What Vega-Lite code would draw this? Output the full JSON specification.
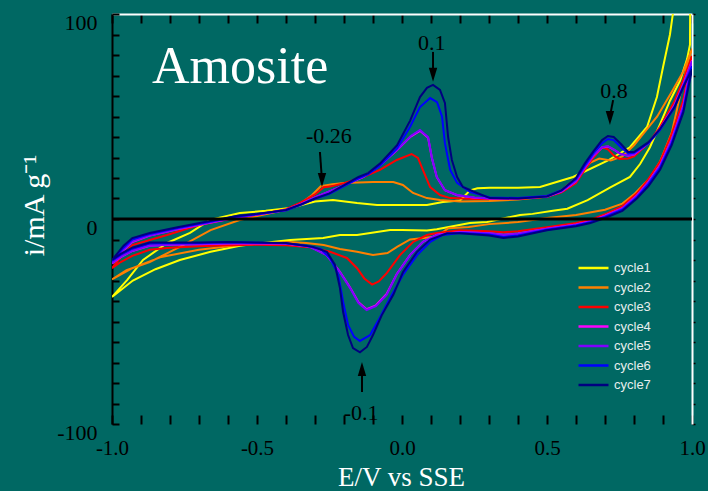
{
  "$schema": "https://vega.github.io/schema/vega-lite/v6.json",
  "width": 580,
  "height": 410,
  "autosize": {"type": "none"},
  "padding": {"left": 112, "top": 14, "right": 16, "bottom": 67},
  "background": "#006863",
  "config": {
    "view": {"stroke": null},
    "axis": {"grid": false, "labelFlush": false, "labelOverlap": false, "labelBound": false}
  },
  "datasets": {
    "cv": [
      {"c":"cycle1","x":-1.0,"y":-38},{"c":"cycle1","x":-0.948,"y":-29.8},{"c":"cycle1","x":-0.893,"y":-20},{"c":"cycle1","x":-0.81,"y":-11.7},{"c":"cycle1","x":-0.731,"y":-6.8},{"c":"cycle1","x":-0.662,"y":-0.5},{"c":"cycle1","x":-0.559,"y":2.9},{"c":"cycle1","x":-0.47,"y":4},{"c":"cycle1","x":-0.386,"y":5.4},{"c":"cycle1","x":-0.3,"y":8.5},{"c":"cycle1","x":-0.238,"y":9.3},{"c":"cycle1","x":-0.155,"y":7.8},{"c":"cycle1","x":-0.086,"y":6.8},{"c":"cycle1","x":0.0,"y":6.8},{"c":"cycle1","x":0.086,"y":6.8},{"c":"cycle1","x":0.141,"y":8.3},{"c":"cycle1","x":0.2,"y":9},{"c":"cycle1","x":0.235,"y":14},{"c":"cycle1","x":0.26,"y":15},{"c":"cycle1","x":0.303,"y":15.2},{"c":"cycle1","x":0.4,"y":15.3},{"c":"cycle1","x":0.476,"y":15.6},{"c":"cycle1","x":0.59,"y":20.5},{"c":"cycle1","x":0.707,"y":28.3},{"c":"cycle1","x":0.786,"y":35},{"c":"cycle1","x":0.845,"y":44.9},{"c":"cycle1","x":0.879,"y":59.5},{"c":"cycle1","x":0.9,"y":74},{"c":"cycle1","x":0.924,"y":90},{"c":"cycle1","x":0.934,"y":100},{"c":"cycle1","x":0.95,"y":125},{"c":"cycle1","x":0.97,"y":140},
      {"c":"cycle1","x":0.995,"y":140},{"c":"cycle1","x":0.993,"y":85},{"c":"cycle1","x":0.983,"y":78},{"c":"cycle1","x":0.959,"y":67.5},{"c":"cycle1","x":0.924,"y":57.7},{"c":"cycle1","x":0.89,"y":46.3},{"c":"cycle1","x":0.855,"y":35},{"c":"cycle1","x":0.821,"y":26.8},{"c":"cycle1","x":0.786,"y":20.5},{"c":"cycle1","x":0.72,"y":15.5},{"c":"cycle1","x":0.64,"y":9.2},{"c":"cycle1","x":0.57,"y":5},{"c":"cycle1","x":0.52,"y":4},{"c":"cycle1","x":0.45,"y":2.5},{"c":"cycle1","x":0.407,"y":2},{"c":"cycle1","x":0.34,"y":0},{"c":"cycle1","x":0.293,"y":-1.5},{"c":"cycle1","x":0.234,"y":-2},{"c":"cycle1","x":0.12,"y":-5},{"c":"cycle1","x":0.086,"y":-5.6},{"c":"cycle1","x":0.0,"y":-5.4},{"c":"cycle1","x":-0.041,"y":-5.4},{"c":"cycle1","x":-0.155,"y":-7.8},{"c":"cycle1","x":-0.214,"y":-7.8},{"c":"cycle1","x":-0.272,"y":-9.3},{"c":"cycle1","x":-0.386,"y":-10.2},{"c":"cycle1","x":-0.559,"y":-13},{"c":"cycle1","x":-0.66,"y":-16},{"c":"cycle1","x":-0.766,"y":-20},{"c":"cycle1","x":-0.85,"y":-24.5},{"c":"cycle1","x":-0.928,"y":-30},{"c":"cycle1","x":-1.0,"y":-38},

      {"c":"cycle2","x":-1.0,"y":-29.5},{"c":"cycle2","x":-0.95,"y":-25},{"c":"cycle2","x":-0.87,"y":-21},{"c":"cycle2","x":-0.766,"y":-13.6},{"c":"cycle2","x":-0.66,"y":-5.4},{"c":"cycle2","x":-0.56,"y":-0.5},{"c":"cycle2","x":-0.5,"y":1.5},{"c":"cycle2","x":-0.4,"y":4.5},{"c":"cycle2","x":-0.35,"y":7.5},{"c":"cycle2","x":-0.31,"y":11.7},{"c":"cycle2","x":-0.28,"y":16},{"c":"cycle2","x":-0.24,"y":17},{"c":"cycle2","x":-0.2,"y":17.6},{"c":"cycle2","x":-0.1,"y":18},{"c":"cycle2","x":-0.03,"y":18},{"c":"cycle2","x":0.003,"y":16.6},{"c":"cycle2","x":0.038,"y":12.7},{"c":"cycle2","x":0.086,"y":10.2},{"c":"cycle2","x":0.131,"y":9.3},{"c":"cycle2","x":0.2,"y":8.5},{"c":"cycle2","x":0.3,"y":8.8},{"c":"cycle2","x":0.4,"y":9.5},{"c":"cycle2","x":0.5,"y":11},{"c":"cycle2","x":0.55,"y":14},{"c":"cycle2","x":0.6,"y":20},{"c":"cycle2","x":0.65,"y":27.5},{"c":"cycle2","x":0.68,"y":29.5},{"c":"cycle2","x":0.72,"y":28.5},{"c":"cycle2","x":0.76,"y":30.5},{"c":"cycle2","x":0.8,"y":36},{"c":"cycle2","x":0.84,"y":43},{"c":"cycle2","x":0.88,"y":50},{"c":"cycle2","x":0.93,"y":62},{"c":"cycle2","x":0.97,"y":72},{"c":"cycle2","x":1.0,"y":83},
      {"c":"cycle2","x":0.985,"y":76},{"c":"cycle2","x":0.96,"y":61},{"c":"cycle2","x":0.93,"y":42},{"c":"cycle2","x":0.89,"y":28},{"c":"cycle2","x":0.855,"y":20},{"c":"cycle2","x":0.8,"y":12},{"c":"cycle2","x":0.76,"y":7.5},{"c":"cycle2","x":0.7,"y":4.5},{"c":"cycle2","x":0.6,"y":2},{"c":"cycle2","x":0.5,"y":0.5},{"c":"cycle2","x":0.4,"y":-1.5},{"c":"cycle2","x":0.3,"y":-2.5},{"c":"cycle2","x":0.23,"y":-3.9},{"c":"cycle2","x":0.16,"y":-4.5},{"c":"cycle2","x":0.12,"y":-8.5},{"c":"cycle2","x":0.075,"y":-9.3},{"c":"cycle2","x":0.028,"y":-10},{"c":"cycle2","x":-0.017,"y":-13.6},{"c":"cycle2","x":-0.05,"y":-16.6},{"c":"cycle2","x":-0.1,"y":-17.6},{"c":"cycle2","x":-0.155,"y":-16},{"c":"cycle2","x":-0.214,"y":-14.6},{"c":"cycle2","x":-0.27,"y":-12.7},{"c":"cycle2","x":-0.33,"y":-11.7},{"c":"cycle2","x":-0.386,"y":-11.2},{"c":"cycle2","x":-0.56,"y":-12.7},{"c":"cycle2","x":-0.7,"y":-15},{"c":"cycle2","x":-0.83,"y":-18.5},{"c":"cycle2","x":-0.93,"y":-24},{"c":"cycle2","x":-1.0,"y":-29.5},

      {"c":"cycle3","x":-1.0,"y":-24},{"c":"cycle3","x":-0.96,"y":-17},{"c":"cycle3","x":-0.93,"y":-12.7},{"c":"cycle3","x":-0.81,"y":-7.8},{"c":"cycle3","x":-0.7,"y":-2.9},{"c":"cycle3","x":-0.58,"y":0.5},{"c":"cycle3","x":-0.5,"y":2},{"c":"cycle3","x":-0.4,"y":4.8},{"c":"cycle3","x":-0.35,"y":8},{"c":"cycle3","x":-0.3,"y":12},{"c":"cycle3","x":-0.27,"y":15.5},{"c":"cycle3","x":-0.248,"y":15.8},{"c":"cycle3","x":-0.2,"y":17.5},{"c":"cycle3","x":-0.134,"y":20.5},{"c":"cycle3","x":-0.076,"y":24},{"c":"cycle3","x":-0.018,"y":28.8},{"c":"cycle3","x":0.033,"y":31.7},{"c":"cycle3","x":0.055,"y":29.8},{"c":"cycle3","x":0.072,"y":24},{"c":"cycle3","x":0.097,"y":15.6},{"c":"cycle3","x":0.131,"y":11.7},{"c":"cycle3","x":0.166,"y":10.2},{"c":"cycle3","x":0.25,"y":9.8},{"c":"cycle3","x":0.4,"y":9.8},{"c":"cycle3","x":0.5,"y":10.8},{"c":"cycle3","x":0.55,"y":13},{"c":"cycle3","x":0.6,"y":17.5},{"c":"cycle3","x":0.63,"y":24},{"c":"cycle3","x":0.66,"y":30},{"c":"cycle3","x":0.69,"y":35},{"c":"cycle3","x":0.71,"y":34},{"c":"cycle3","x":0.73,"y":31},{"c":"cycle3","x":0.75,"y":29.3},{"c":"cycle3","x":0.78,"y":29.5},{"c":"cycle3","x":0.8,"y":30.5},{"c":"cycle3","x":0.85,"y":37},{"c":"cycle3","x":0.89,"y":45},{"c":"cycle3","x":0.94,"y":57.5},{"c":"cycle3","x":0.97,"y":68},{"c":"cycle3","x":1.0,"y":79.5},
      {"c":"cycle3","x":0.97,"y":58},{"c":"cycle3","x":0.93,"y":41.5},{"c":"cycle3","x":0.89,"y":28},{"c":"cycle3","x":0.85,"y":19.5},{"c":"cycle3","x":0.81,"y":12.5},{"c":"cycle3","x":0.76,"y":6.3},{"c":"cycle3","x":0.7,"y":2.3},{"c":"cycle3","x":0.65,"y":-0.4},{"c":"cycle3","x":0.6,"y":-2},{"c":"cycle3","x":0.5,"y":-4},{"c":"cycle3","x":0.4,"y":-6},{"c":"cycle3","x":0.35,"y":-6.5},{"c":"cycle3","x":0.3,"y":-6},{"c":"cycle3","x":0.2,"y":-5.5},{"c":"cycle3","x":0.12,"y":-6.8},{"c":"cycle3","x":0.086,"y":-7.8},{"c":"cycle3","x":0.038,"y":-11.2},{"c":"cycle3","x":-0.007,"y":-17.6},{"c":"cycle3","x":-0.052,"y":-26.3},{"c":"cycle3","x":-0.08,"y":-30.5},{"c":"cycle3","x":-0.103,"y":-32},{"c":"cycle3","x":-0.13,"y":-29},{"c":"cycle3","x":-0.155,"y":-24},{"c":"cycle3","x":-0.19,"y":-19},{"c":"cycle3","x":-0.248,"y":-16},{"c":"cycle3","x":-0.317,"y":-13.8},{"c":"cycle3","x":-0.4,"y":-12.8},{"c":"cycle3","x":-0.5,"y":-12.6},{"c":"cycle3","x":-0.6,"y":-12.8},{"c":"cycle3","x":-0.7,"y":-13.3},{"c":"cycle3","x":-0.8,"y":-14},{"c":"cycle3","x":-0.87,"y":-15},{"c":"cycle3","x":-0.93,"y":-18},{"c":"cycle3","x":-0.97,"y":-21},{"c":"cycle3","x":-1.0,"y":-24},

      {"c":"cycle4","x":-1.0,"y":-21.7},{"c":"cycle4","x":-0.96,"y":-15.2},{"c":"cycle4","x":-0.93,"y":-11.2},{"c":"cycle4","x":-0.87,"y":-8.1},{"c":"cycle4","x":-0.77,"y":-4.9},{"c":"cycle4","x":-0.68,"y":-2.3},{"c":"cycle4","x":-0.57,"y":0.7},{"c":"cycle4","x":-0.5,"y":2.2},{"c":"cycle4","x":-0.4,"y":4.4},{"c":"cycle4","x":-0.35,"y":7.2},{"c":"cycle4","x":-0.3,"y":10.5},{"c":"cycle4","x":-0.25,"y":13.5},{"c":"cycle4","x":-0.2,"y":16.4},{"c":"cycle4","x":-0.134,"y":20.4},{"c":"cycle4","x":-0.076,"y":26.1},{"c":"cycle4","x":-0.018,"y":33.5},{"c":"cycle4","x":0.03,"y":40.2},{"c":"cycle4","x":0.062,"y":43},{"c":"cycle4","x":0.09,"y":39.6},{"c":"cycle4","x":0.103,"y":29.8},{"c":"cycle4","x":0.12,"y":20.4},{"c":"cycle4","x":0.148,"y":14},{"c":"cycle4","x":0.19,"y":11.6},{"c":"cycle4","x":0.25,"y":10.4},{"c":"cycle4","x":0.303,"y":10},{"c":"cycle4","x":0.4,"y":10},{"c":"cycle4","x":0.5,"y":11},{"c":"cycle4","x":0.55,"y":13.4},{"c":"cycle4","x":0.6,"y":18.4},{"c":"cycle4","x":0.63,"y":24.9},{"c":"cycle4","x":0.66,"y":30.9},{"c":"cycle4","x":0.69,"y":34.9},{"c":"cycle4","x":0.71,"y":35.4},{"c":"cycle4","x":0.73,"y":33.9},{"c":"cycle4","x":0.755,"y":31.5},{"c":"cycle4","x":0.78,"y":30.9},{"c":"cycle4","x":0.8,"y":31.4},{"c":"cycle4","x":0.85,"y":37},{"c":"cycle4","x":0.89,"y":44},{"c":"cycle4","x":0.94,"y":55.6},{"c":"cycle4","x":0.97,"y":65.7},{"c":"cycle4","x":1.0,"y":77.3},
      {"c":"cycle4","x":0.97,"y":55.2},{"c":"cycle4","x":0.93,"y":38.7},{"c":"cycle4","x":0.89,"y":26.2},{"c":"cycle4","x":0.85,"y":18.1},{"c":"cycle4","x":0.81,"y":11.4},{"c":"cycle4","x":0.76,"y":5.3},{"c":"cycle4","x":0.7,"y":1.6},{"c":"cycle4","x":0.65,"y":-1.1},{"c":"cycle4","x":0.6,"y":-2.7},{"c":"cycle4","x":0.5,"y":-4.7},{"c":"cycle4","x":0.4,"y":-7.1},{"c":"cycle4","x":0.35,"y":-7.7},{"c":"cycle4","x":0.3,"y":-6.9},{"c":"cycle4","x":0.2,"y":-6.4},{"c":"cycle4","x":0.12,"y":-7.7},{"c":"cycle4","x":0.072,"y":-11.1},{"c":"cycle4","x":0.028,"y":-17.5},{"c":"cycle4","x":-0.018,"y":-26.8},{"c":"cycle4","x":-0.053,"y":-36.6},{"c":"cycle4","x":-0.09,"y":-42.1},{"c":"cycle4","x":-0.122,"y":-44},{"c":"cycle4","x":-0.15,"y":-40.6},{"c":"cycle4","x":-0.179,"y":-33.4},{"c":"cycle4","x":-0.214,"y":-25.8},{"c":"cycle4","x":-0.26,"y":-17.5},{"c":"cycle4","x":-0.317,"y":-13.6},{"c":"cycle4","x":-0.4,"y":-12.1},{"c":"cycle4","x":-0.5,"y":-11.9},{"c":"cycle4","x":-0.6,"y":-11.9},{"c":"cycle4","x":-0.7,"y":-12.3},{"c":"cycle4","x":-0.8,"y":-12.6},{"c":"cycle4","x":-0.87,"y":-13.1},{"c":"cycle4","x":-0.93,"y":-15.6},{"c":"cycle4","x":-0.97,"y":-18.6},{"c":"cycle4","x":-1.0,"y":-21.7},

      {"c":"cycle5","x":-1.0,"y":-21.5},{"c":"cycle5","x":-0.96,"y":-15},{"c":"cycle5","x":-0.93,"y":-11},{"c":"cycle5","x":-0.87,"y":-8},{"c":"cycle5","x":-0.77,"y":-4.8},{"c":"cycle5","x":-0.68,"y":-2.2},{"c":"cycle5","x":-0.57,"y":0.8},{"c":"cycle5","x":-0.5,"y":2.2},{"c":"cycle5","x":-0.4,"y":4.4},{"c":"cycle5","x":-0.35,"y":7.2},{"c":"cycle5","x":-0.3,"y":10.5},{"c":"cycle5","x":-0.25,"y":13.5},{"c":"cycle5","x":-0.2,"y":16.5},{"c":"cycle5","x":-0.134,"y":20.5},{"c":"cycle5","x":-0.076,"y":26.3},{"c":"cycle5","x":-0.018,"y":33.7},{"c":"cycle5","x":0.03,"y":40.5},{"c":"cycle5","x":0.062,"y":43.4},{"c":"cycle5","x":0.09,"y":40},{"c":"cycle5","x":0.103,"y":30},{"c":"cycle5","x":0.12,"y":20.5},{"c":"cycle5","x":0.148,"y":14},{"c":"cycle5","x":0.19,"y":11.7},{"c":"cycle5","x":0.25,"y":10.5},{"c":"cycle5","x":0.303,"y":10},{"c":"cycle5","x":0.4,"y":10},{"c":"cycle5","x":0.5,"y":11},{"c":"cycle5","x":0.55,"y":13.5},{"c":"cycle5","x":0.6,"y":18.5},{"c":"cycle5","x":0.63,"y":25},{"c":"cycle5","x":0.66,"y":31},{"c":"cycle5","x":0.69,"y":35},{"c":"cycle5","x":0.71,"y":35.6},{"c":"cycle5","x":0.73,"y":34},{"c":"cycle5","x":0.755,"y":31.7},{"c":"cycle5","x":0.78,"y":31},{"c":"cycle5","x":0.8,"y":31.5},{"c":"cycle5","x":0.85,"y":37},{"c":"cycle5","x":0.89,"y":44},{"c":"cycle5","x":0.94,"y":55.5},{"c":"cycle5","x":0.97,"y":65.5},{"c":"cycle5","x":1.0,"y":77},
      {"c":"cycle5","x":0.97,"y":55},{"c":"cycle5","x":0.93,"y":38.5},{"c":"cycle5","x":0.89,"y":26},{"c":"cycle5","x":0.85,"y":18},{"c":"cycle5","x":0.81,"y":11.3},{"c":"cycle5","x":0.76,"y":5.2},{"c":"cycle5","x":0.7,"y":1.5},{"c":"cycle5","x":0.65,"y":-1.2},{"c":"cycle5","x":0.6,"y":-2.8},{"c":"cycle5","x":0.5,"y":-4.8},{"c":"cycle5","x":0.4,"y":-7.2},{"c":"cycle5","x":0.35,"y":-7.8},{"c":"cycle5","x":0.3,"y":-7},{"c":"cycle5","x":0.2,"y":-6.5},{"c":"cycle5","x":0.12,"y":-7.8},{"c":"cycle5","x":0.072,"y":-11.2},{"c":"cycle5","x":0.028,"y":-17.6},{"c":"cycle5","x":-0.018,"y":-27},{"c":"cycle5","x":-0.053,"y":-37},{"c":"cycle5","x":-0.09,"y":-42.5},{"c":"cycle5","x":-0.122,"y":-44.4},{"c":"cycle5","x":-0.15,"y":-41},{"c":"cycle5","x":-0.179,"y":-33.7},{"c":"cycle5","x":-0.214,"y":-26},{"c":"cycle5","x":-0.26,"y":-17.6},{"c":"cycle5","x":-0.317,"y":-13.6},{"c":"cycle5","x":-0.4,"y":-12},{"c":"cycle5","x":-0.5,"y":-11.8},{"c":"cycle5","x":-0.6,"y":-11.8},{"c":"cycle5","x":-0.7,"y":-12.2},{"c":"cycle5","x":-0.8,"y":-12.5},{"c":"cycle5","x":-0.87,"y":-13},{"c":"cycle5","x":-0.93,"y":-15.5},{"c":"cycle5","x":-0.97,"y":-18.5},{"c":"cycle5","x":-1.0,"y":-21.5},

      {"c":"cycle6","x":-1.0,"y":-20.5},{"c":"cycle6","x":-0.96,"y":-14},{"c":"cycle6","x":-0.93,"y":-10},{"c":"cycle6","x":-0.87,"y":-7.3},{"c":"cycle6","x":-0.77,"y":-4.3},{"c":"cycle6","x":-0.68,"y":-1.8},{"c":"cycle6","x":-0.57,"y":1.2},{"c":"cycle6","x":-0.5,"y":2.3},{"c":"cycle6","x":-0.4,"y":4.2},{"c":"cycle6","x":-0.35,"y":6.8},{"c":"cycle6","x":-0.3,"y":9.8},{"c":"cycle6","x":-0.25,"y":12.3},{"c":"cycle6","x":-0.2,"y":16},{"c":"cycle6","x":-0.15,"y":19.8},{"c":"cycle6","x":-0.117,"y":21.8},{"c":"cycle6","x":-0.076,"y":26},{"c":"cycle6","x":-0.017,"y":34.5},{"c":"cycle6","x":0.028,"y":45},{"c":"cycle6","x":0.062,"y":54.6},{"c":"cycle6","x":0.097,"y":59},{"c":"cycle6","x":0.121,"y":57},{"c":"cycle6","x":0.138,"y":50},{"c":"cycle6","x":0.148,"y":37},{"c":"cycle6","x":0.166,"y":24},{"c":"cycle6","x":0.19,"y":17.6},{"c":"cycle6","x":0.234,"y":13.2},{"c":"cycle6","x":0.303,"y":10.5},{"c":"cycle6","x":0.4,"y":10.2},{"c":"cycle6","x":0.5,"y":11.2},{"c":"cycle6","x":0.55,"y":14},{"c":"cycle6","x":0.6,"y":19.5},{"c":"cycle6","x":0.63,"y":26},{"c":"cycle6","x":0.66,"y":32},{"c":"cycle6","x":0.69,"y":37},{"c":"cycle6","x":0.71,"y":39},{"c":"cycle6","x":0.73,"y":38.5},{"c":"cycle6","x":0.755,"y":35},{"c":"cycle6","x":0.78,"y":32},{"c":"cycle6","x":0.8,"y":32.3},{"c":"cycle6","x":0.85,"y":37},{"c":"cycle6","x":0.89,"y":43.5},{"c":"cycle6","x":0.94,"y":54.5},{"c":"cycle6","x":0.97,"y":64.5},{"c":"cycle6","x":1.0,"y":74.5},
      {"c":"cycle6","x":0.97,"y":53},{"c":"cycle6","x":0.93,"y":37},{"c":"cycle6","x":0.89,"y":25},{"c":"cycle6","x":0.85,"y":17},{"c":"cycle6","x":0.81,"y":10.5},{"c":"cycle6","x":0.76,"y":4.5},{"c":"cycle6","x":0.7,"y":1},{"c":"cycle6","x":0.65,"y":-1.6},{"c":"cycle6","x":0.6,"y":-3.2},{"c":"cycle6","x":0.5,"y":-5.2},{"c":"cycle6","x":0.4,"y":-8},{"c":"cycle6","x":0.35,"y":-8.8},{"c":"cycle6","x":0.3,"y":-7.6},{"c":"cycle6","x":0.2,"y":-6.8},{"c":"cycle6","x":0.141,"y":-7.8},{"c":"cycle6","x":0.097,"y":-11.2},{"c":"cycle6","x":0.052,"y":-17.6},{"c":"cycle6","x":0.003,"y":-27.3},{"c":"cycle6","x":-0.041,"y":-38.5},{"c":"cycle6","x":-0.076,"y":-48},{"c":"cycle6","x":-0.11,"y":-56.6},{"c":"cycle6","x":-0.145,"y":-59.5},{"c":"cycle6","x":-0.165,"y":-57.5},{"c":"cycle6","x":-0.186,"y":-51.7},{"c":"cycle6","x":-0.203,"y":-40.5},{"c":"cycle6","x":-0.22,"y":-27},{"c":"cycle6","x":-0.248,"y":-19},{"c":"cycle6","x":-0.28,"y":-14.6},{"c":"cycle6","x":-0.33,"y":-13},{"c":"cycle6","x":-0.4,"y":-11.8},{"c":"cycle6","x":-0.5,"y":-11.6},{"c":"cycle6","x":-0.6,"y":-11.4},{"c":"cycle6","x":-0.7,"y":-11.7},{"c":"cycle6","x":-0.8,"y":-11.8},{"c":"cycle6","x":-0.87,"y":-12},{"c":"cycle6","x":-0.93,"y":-14.5},{"c":"cycle6","x":-0.97,"y":-17.5},{"c":"cycle6","x":-1.0,"y":-20.5},

      {"c":"cycle7","x":-1.0,"y":-20},{"c":"cycle7","x":-0.96,"y":-13},{"c":"cycle7","x":-0.93,"y":-9.3},{"c":"cycle7","x":-0.87,"y":-6.8},{"c":"cycle7","x":-0.77,"y":-3.9},{"c":"cycle7","x":-0.68,"y":-1.5},{"c":"cycle7","x":-0.57,"y":1.5},{"c":"cycle7","x":-0.5,"y":2.5},{"c":"cycle7","x":-0.4,"y":4.4},{"c":"cycle7","x":-0.35,"y":7},{"c":"cycle7","x":-0.3,"y":10},{"c":"cycle7","x":-0.25,"y":12.5},{"c":"cycle7","x":-0.2,"y":16.5},{"c":"cycle7","x":-0.15,"y":20.5},{"c":"cycle7","x":-0.117,"y":22.4},{"c":"cycle7","x":-0.076,"y":27},{"c":"cycle7","x":-0.017,"y":36},{"c":"cycle7","x":0.028,"y":48},{"c":"cycle7","x":0.062,"y":59.5},{"c":"cycle7","x":0.086,"y":64},{"c":"cycle7","x":0.107,"y":65.4},{"c":"cycle7","x":0.131,"y":63},{"c":"cycle7","x":0.148,"y":56.6},{"c":"cycle7","x":0.159,"y":40},{"c":"cycle7","x":0.172,"y":28.8},{"c":"cycle7","x":0.19,"y":20.5},{"c":"cycle7","x":0.21,"y":15.6},{"c":"cycle7","x":0.259,"y":12.7},{"c":"cycle7","x":0.303,"y":10.2},{"c":"cycle7","x":0.4,"y":10},{"c":"cycle7","x":0.5,"y":11},{"c":"cycle7","x":0.55,"y":14},{"c":"cycle7","x":0.6,"y":20},{"c":"cycle7","x":0.63,"y":27},{"c":"cycle7","x":0.66,"y":33},{"c":"cycle7","x":0.69,"y":38.5},{"c":"cycle7","x":0.71,"y":40.5},{"c":"cycle7","x":0.73,"y":40},{"c":"cycle7","x":0.755,"y":36.6},{"c":"cycle7","x":0.78,"y":32.7},{"c":"cycle7","x":0.8,"y":32.7},{"c":"cycle7","x":0.85,"y":37.5},{"c":"cycle7","x":0.89,"y":44},{"c":"cycle7","x":0.94,"y":54.6},{"c":"cycle7","x":0.97,"y":64.4},{"c":"cycle7","x":1.0,"y":73},
      {"c":"cycle7","x":0.97,"y":52},{"c":"cycle7","x":0.93,"y":36},{"c":"cycle7","x":0.89,"y":24},{"c":"cycle7","x":0.85,"y":16},{"c":"cycle7","x":0.81,"y":10},{"c":"cycle7","x":0.76,"y":4},{"c":"cycle7","x":0.7,"y":0.5},{"c":"cycle7","x":0.65,"y":-2},{"c":"cycle7","x":0.6,"y":-3.5},{"c":"cycle7","x":0.5,"y":-5.5},{"c":"cycle7","x":0.4,"y":-8.5},{"c":"cycle7","x":0.35,"y":-9.3},{"c":"cycle7","x":0.3,"y":-8},{"c":"cycle7","x":0.2,"y":-7},{"c":"cycle7","x":0.155,"y":-7},{"c":"cycle7","x":0.097,"y":-10},{"c":"cycle7","x":0.052,"y":-16},{"c":"cycle7","x":0.003,"y":-26},{"c":"cycle7","x":-0.03,"y":-37},{"c":"cycle7","x":-0.07,"y":-47},{"c":"cycle7","x":-0.1,"y":-56.6},{"c":"cycle7","x":-0.121,"y":-62.4},{"c":"cycle7","x":-0.145,"y":-65},{"c":"cycle7","x":-0.169,"y":-63},{"c":"cycle7","x":-0.186,"y":-56.6},{"c":"cycle7","x":-0.203,"y":-45.4},{"c":"cycle7","x":-0.214,"y":-33.7},{"c":"cycle7","x":-0.231,"y":-22.4},{"c":"cycle7","x":-0.259,"y":-16},{"c":"cycle7","x":-0.307,"y":-13.6},{"c":"cycle7","x":-0.352,"y":-12.7},{"c":"cycle7","x":-0.4,"y":-11.7},{"c":"cycle7","x":-0.5,"y":-11.5},{"c":"cycle7","x":-0.6,"y":-11.2},{"c":"cycle7","x":-0.7,"y":-11.5},{"c":"cycle7","x":-0.8,"y":-11.5},{"c":"cycle7","x":-0.87,"y":-11.5},{"c":"cycle7","x":-0.93,"y":-14},{"c":"cycle7","x":-0.97,"y":-17},{"c":"cycle7","x":-1.0,"y":-20}
    ],
    "ann": [
      {"t":"0.1","x":0.103,"y":82.4},
      {"t":"-0.26","x":-0.252,"y":37},
      {"t":"0.8","x":0.731,"y":59},
      {"t":"-0.1","x":-0.141,"y":-98}
    ],
    "shafts": [
      {"x":0.107,"y":81.5,"x2":0.107,"y2":72},
      {"x":-0.283,"y":32.7,"x2":-0.277,"y2":21},
      {"x":0.728,"y":58,"x2":0.719,"y2":51.5},
      {"x":-0.138,"y":-84.4,"x2":-0.138,"y2":-75}
    ],
    "heads": [
      {"x":0.107,"y":67,"dir":"down"},
      {"x":-0.276,"y":15.6,"dir":"down"},
      {"x":0.717,"y":45.9,"dir":"down"},
      {"x":-0.138,"y":-69.8,"dir":"up"}
    ]
  },
  "layer": [
    {
      "data": {"name": "cv"},
      "mark": {"type": "line", "strokeWidth": 2, "clip": true},
      "encoding": {
        "x": {
          "field": "x", "type": "quantitative",
          "scale": {"domain": [-1, 1], "nice": false, "zero": false},
          "axis": {
            "orient": "bottom",
            "values": [-1, -0.9, -0.8, -0.7, -0.6, -0.5, -0.4, -0.3, -0.2, -0.1, 0, 0.1, 0.2, 0.3, 0.4, 0.5, 0.6, 0.7, 0.8, 0.9, 1],
            "labelExpr": "abs(datum.value*2-round(datum.value*2))<0.01 ? replace(format(datum.value,'.1f'),'\u2212','-') : ''",
            "domain": false,
            "ticks": true, "tickSize": -9, "tickWidth": 2, "tickColor": "black",
            "labelFont": "Liberation Serif", "labelFontSize": 21, "labelColor": "black", "labelPadding": 22,
            "title": "E/V vs SSE",
            "titleFont": "Liberation Serif", "titleFontSize": 27, "titleFontWeight": "normal", "titleColor": "white",
            "titleBaseline": "alphabetic", "titleY": 61, "titleX": 289, "titleAlign": "center"
          }
        },
        "y": {
          "field": "y", "type": "quantitative",
          "scale": {"domain": [-100, 100], "nice": false, "zero": false},
          "axis": {
            "orient": "left",
            "values": [-100, -90, -80, -70, -60, -50, -40, -30, -20, -10, 0, 10, 20, 30, 40, 50, 60, 70, 80, 90, 100],
            "labelExpr": "datum.value == 100 ? '100' : datum.value == 0 ? '0' : datum.value == -100 ? '-100' : ''",
            "domain": true, "domainColor": "black", "domainWidth": 2,
            "ticks": true, "tickSize": -7, "tickWidth": 2, "tickColor": "black",
            "labelFont": "Liberation Serif", "labelFontSize": 22, "labelColor": "black", "labelPadding": 22, "labelOffset": 8,
            "title": "i/mA g\u207b\u00b9",
            "titleFont": "Liberation Serif", "titleFontSize": 30, "titleFontWeight": "normal", "titleColor": "white",
            "titleAngle": -90, "titleBaseline": "alphabetic", "titleAlign": "center", "titleX": -69, "titleY": 191
          }
        },
        "color": {
          "field": "c", "type": "nominal",
          "scale": {
            "domain": ["cycle1", "cycle2", "cycle3", "cycle4", "cycle5", "cycle6", "cycle7"],
            "range": ["#ffff00", "#ff8000", "#ff0000", "#ff00ff", "#8000ff", "#0000ff", "#000080"]
          },
          "legend": {
            "orient": "none", "legendX": 465, "legendY": 246, "title": null,
            "symbolType": "stroke", "symbolStrokeWidth": 2.5, "symbolSize": 900,
            "labelFont": "Liberation Sans", "labelFontSize": 13, "labelColor": "#e6eeee",
            "clipHeight": 16, "rowPadding": 3.5, "padding": 0, "labelOffset": 4
          }
        },
        "order": {"value": null}
      }
    },
    {
      "data": {"values": [{"v": 0}]},
      "mark": {"type": "rule", "color": "black", "strokeWidth": 3},
      "encoding": {
        "y": {"field": "v", "type": "quantitative", "scale": {"domain": [-100, 100], "nice": false, "zero": false}, "axis": null}
      }
    },
    {
      "data": {"values": [{"t": "Amosite", "x": -0.862, "y": 66.3}]},
      "mark": {"type": "text", "font": "Liberation Serif", "fontSize": 52, "color": "white", "align": "left", "baseline": "alphabetic"},
      "encoding": {
        "x": {"field": "x", "type": "quantitative", "scale": {"domain": [-1, 1], "nice": false, "zero": false}, "axis": null},
        "y": {"field": "y", "type": "quantitative", "scale": {"domain": [-100, 100], "nice": false, "zero": false}, "axis": null},
        "text": {"field": "t"}
      }
    },
    {
      "data": {"name": "ann"},
      "mark": {"type": "text", "font": "Liberation Serif", "fontSize": 22, "color": "black", "align": "center", "baseline": "alphabetic"},
      "encoding": {
        "x": {
          "field": "x", "type": "quantitative", "scale": {"domain": [-1, 1], "nice": false, "zero": false},
          "axis": {
            "orient": "top", "title": null, "labels": false,
            "values": [-1, -0.9, -0.8, -0.7, -0.6, -0.5, -0.4, -0.3, -0.2, -0.1, 0, 0.1, 0.2, 0.3, 0.4, 0.5, 0.6, 0.7, 0.8, 0.9, 1],
            "domain": true, "domainColor": "white", "domainWidth": 2,
            "ticks": true, "tickSize": -9, "tickWidth": 2, "tickColor": "black"
          }
        },
        "y": {
          "field": "y", "type": "quantitative", "scale": {"domain": [-100, 100], "nice": false, "zero": false},
          "axis": {
            "orient": "right", "title": null, "labels": false,
            "values": [-100, -90, -80, -70, -60, -50, -40, -30, -20, -10, 0, 10, 20, 30, 40, 50, 60, 70, 80, 90, 100],
            "domain": true, "domainColor": "white", "domainWidth": 2,
            "ticks": true, "tickSize": 3, "tickWidth": 1.5, "tickColor": "black"
          }
        },
        "text": {"field": "t"}
      }
    },
    {
      "data": {"name": "shafts"},
      "mark": {"type": "rule", "color": "black", "strokeWidth": 2},
      "encoding": {
        "x": {"field": "x", "type": "quantitative", "scale": {"domain": [-1, 1], "nice": false, "zero": false}, "axis": null},
        "y": {"field": "y", "type": "quantitative", "scale": {"domain": [-100, 100], "nice": false, "zero": false}, "axis": null},
        "x2": {"field": "x2"},
        "y2": {"field": "y2"}
      }
    },
    {
      "data": {"name": "heads"},
      "mark": {"type": "point", "filled": true, "color": "black", "opacity": 1, "size": 196},
      "encoding": {
        "x": {"field": "x", "type": "quantitative", "scale": {"domain": [-1, 1], "nice": false, "zero": false}, "axis": null},
        "y": {"field": "y", "type": "quantitative", "scale": {"domain": [-100, 100], "nice": false, "zero": false}, "axis": null},
        "shape": {
          "field": "dir", "type": "nominal",
          "scale": {"domain": ["down", "up"], "range": ["M-0.6,-2L0.6,-2L0,0Z", "M-0.6,2L0.6,2L0,0Z"]},
          "legend": null
        }
      }
    }
  ],
  "resolve": {"axis": {"x": "independent", "y": "independent"}}
}
